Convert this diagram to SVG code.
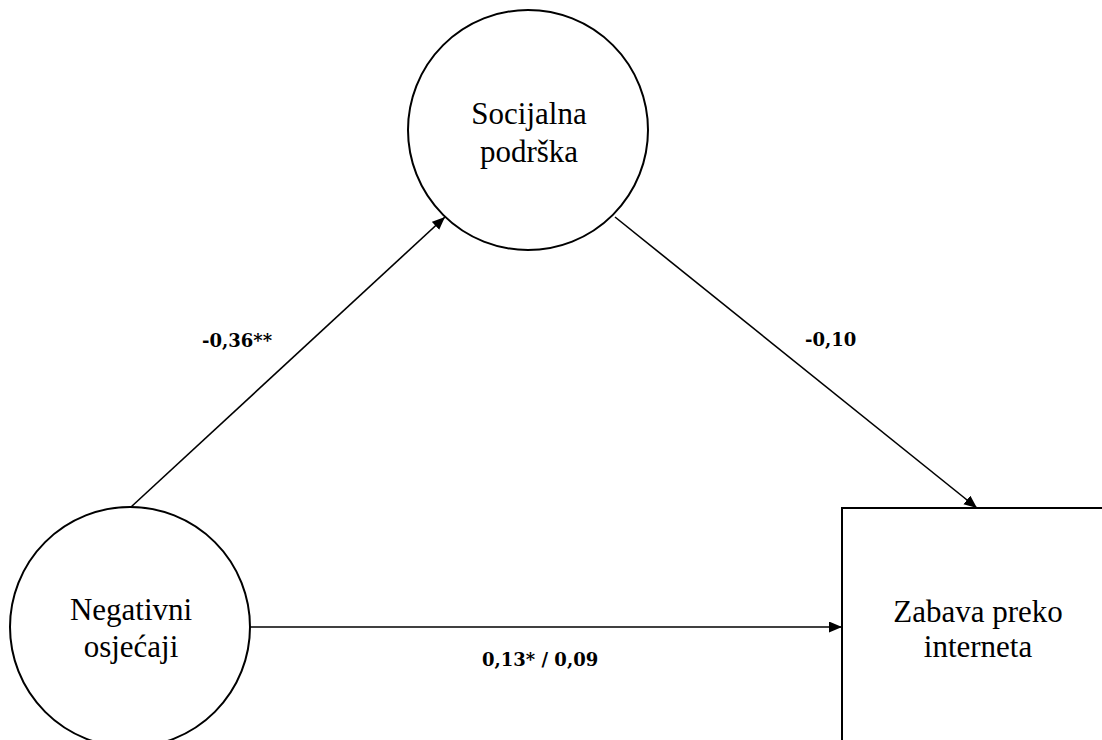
<svg xmlns="http://www.w3.org/2000/svg" width="1102" height="740" viewBox="0 0 1102 740">
<style>
.node{fill:#fff;stroke:#000;stroke-width:2}
.lbl{font-family:"Liberation Serif","Times New Roman",serif;font-size:31px;fill:#000;text-anchor:middle}
.coef{font-family:"DejaVu Serif",serif;font-weight:bold;font-size:18px;fill:#000}
.edge{stroke:#000;stroke-width:1.6;fill:none}
</style>
<defs>
<marker id="arr" markerUnits="userSpaceOnUse" markerWidth="14" markerHeight="12" refX="13" refY="5.5" orient="auto">
<path d="M0,0 L13,5.5 L0,11 Z" fill="#000"/>
</marker>
</defs>
<rect width="1102" height="740" fill="#fff"/>
<g id="connectors">
<line class="edge" x1="131" y1="507" x2="445" y2="217" marker-end="url(#arr)"/>
<line class="edge" x1="615" y1="217" x2="977" y2="508" marker-end="url(#arr)"/>
<line class="edge" x1="250" y1="627" x2="842" y2="627" marker-end="url(#arr)"/>
<text class="coef" x="202" y="347">-0,36**</text>
<text class="coef" x="805" y="346">-0,10</text>
<text class="coef" x="482" y="666">0,13* / 0,09</text>
</g>
<g id="node-socijalna">
<circle class="node" cx="528" cy="130" r="120"/>
<text class="lbl" x="529" y="124">Socijalna</text>
<text class="lbl" x="529" y="162">podrška</text>
</g>
<g id="node-negativni">
<circle class="node" cx="130" cy="627" r="120"/>
<text class="lbl" x="131" y="620">Negativni</text>
<text class="lbl" x="131" y="657">osjećaji</text>
</g>
<g id="node-zabava">
<rect class="node" x="842" y="508" width="300" height="300"/>
<text class="lbl" x="978" y="622">Zabava preko</text>
<text class="lbl" x="978" y="657">interneta</text>
</g>
</svg>
